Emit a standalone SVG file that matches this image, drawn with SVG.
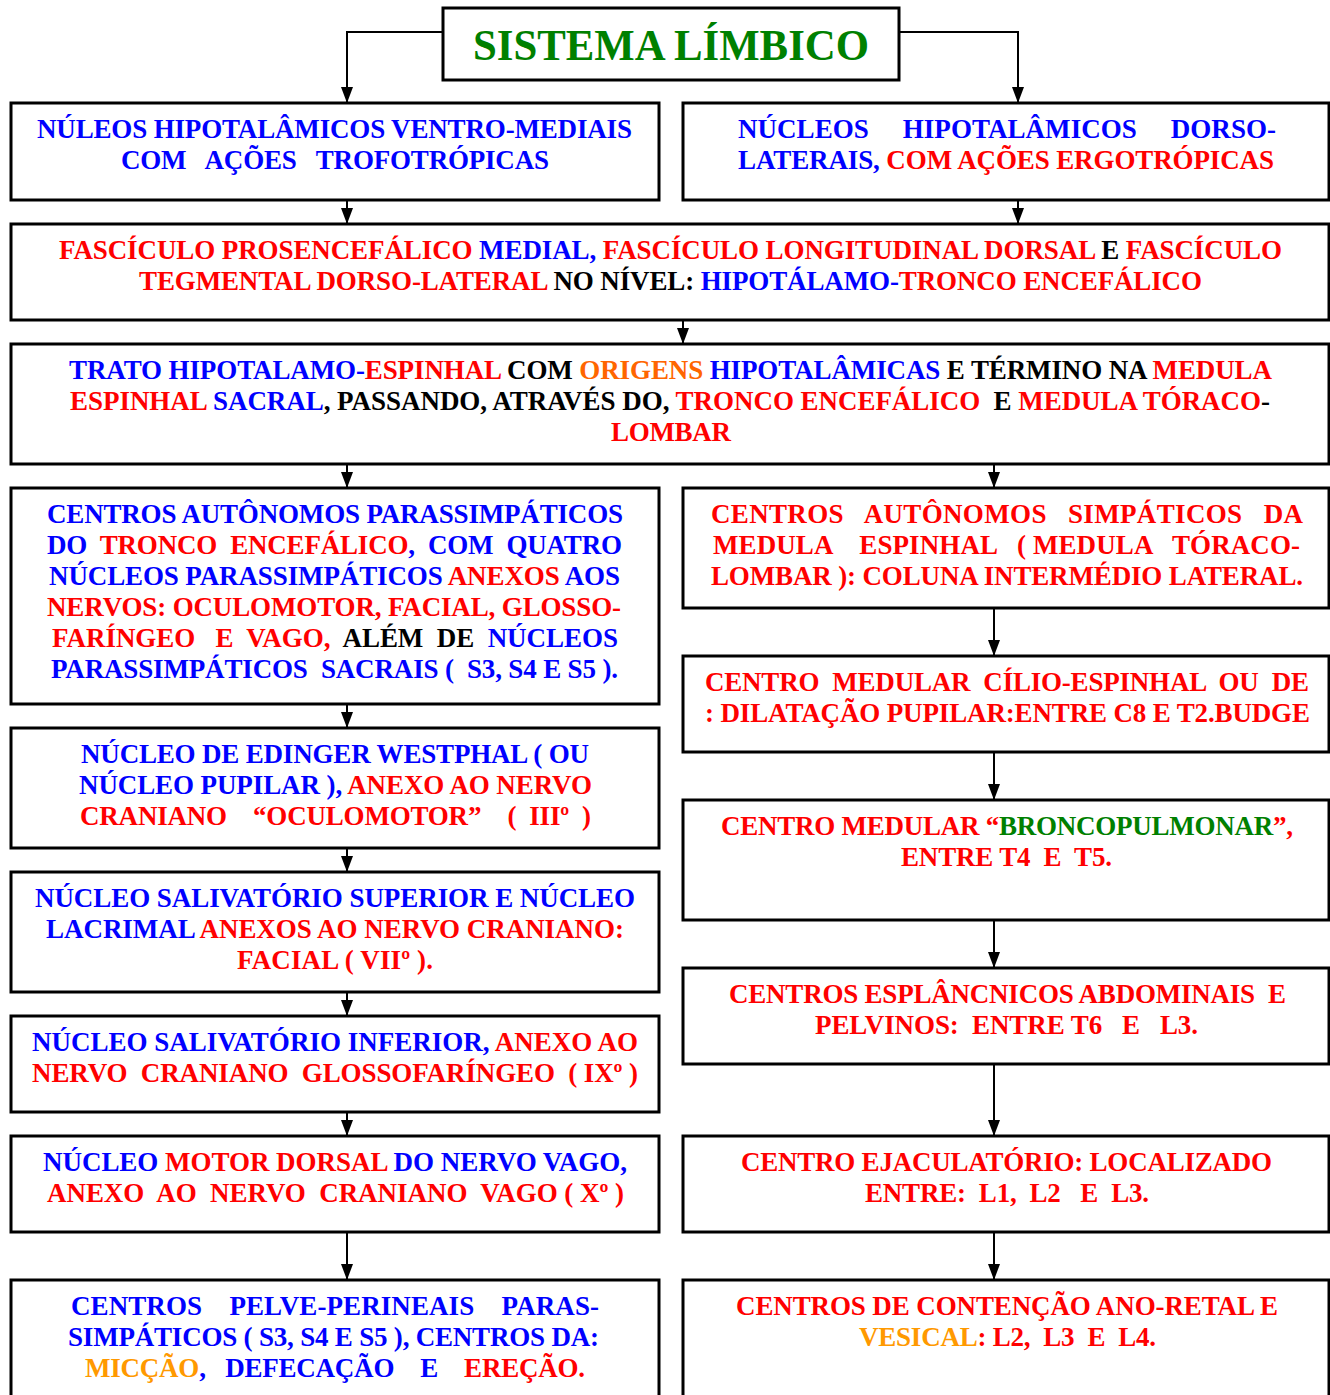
<svg xmlns="http://www.w3.org/2000/svg" width="1330" height="1395" viewBox="0 0 1330 1395">
<defs>
<style>
.box{fill:#fff;stroke:#000;stroke-width:3}
.t{font-family:"Liberation Serif","Times New Roman",serif;font-weight:bold;font-size:27px;white-space:pre}
.ttl{font-family:"Liberation Serif","Times New Roman",serif;font-weight:bold;font-size:44px;fill:#008000}
.b{fill:#0000FF}.r{fill:#FF0000}.k{fill:#000}.g{fill:#008000}.o{fill:#FF6600}.a{fill:#FF9900}
.c{fill:none;stroke:#000;stroke-width:2;marker-end:url(#ah)}
</style>
<marker id="ah" markerUnits="userSpaceOnUse" markerWidth="16" markerHeight="12" refX="16" refY="6" orient="auto">
<path d="M0,0 L16,6 L0,12 Z" fill="#000"/>
</marker>
</defs>
<rect width="1330" height="1395" fill="#fff"/>
<g id="connectors">
<path class="c" d="M443,32 H347 V103"/>
<path class="c" d="M899,32 H1018 V103"/>
<path class="c" d="M347,200 V224"/>
<path class="c" d="M1018,200 V224"/>
<path class="c" d="M683,320 V344"/>
<path class="c" d="M347,464 V488"/>
<path class="c" d="M994,464 V488"/>
<path class="c" d="M347,704 V728"/>
<path class="c" d="M347,848 V872"/>
<path class="c" d="M347,992 V1016"/>
<path class="c" d="M347,1112 V1136"/>
<path class="c" d="M347,1232 V1280"/>
<path class="c" d="M994,608 V656"/>
<path class="c" d="M994,752 V800"/>
<path class="c" d="M994,920 V968"/>
<path class="c" d="M994,1064 V1136"/>
<path class="c" d="M994,1232 V1280"/>
</g>
<g id="title">
<rect class="box" x="443" y="8" width="456" height="72"/>
<text class="ttl" x="473" y="60" textLength="396" lengthAdjust="spacingAndGlyphs">SISTEMA LÍMBICO</text>
</g>
<g id="ventro-mediais">
<rect class="box" x="11" y="103" width="648" height="97"/>
<text class="t b" x="37" y="138" textLength="595" lengthAdjust="spacing">NÚLEOS HIPOTALÂMICOS VENTRO-MEDIAIS</text>
<text class="t b" x="121" y="169" textLength="428" lengthAdjust="spacing">COM   AÇÕES   TROFOTRÓPICAS</text>
</g>
<g id="dorso-laterais">
<rect class="box" x="683" y="103" width="646" height="97"/>
<text class="t b" x="738" y="138" textLength="538" lengthAdjust="spacing">NÚCLEOS     HIPOTALÂMICOS     DORSO-</text>
<text class="t" x="738" y="169" textLength="536" lengthAdjust="spacing"><tspan class="b">LATERAIS,</tspan><tspan class="r"> COM AÇÕES ERGOTRÓPICAS</tspan></text>
</g>
<g id="fasciculos">
<rect class="box" x="11" y="224" width="1318" height="96"/>
<text class="t" x="59" y="259" textLength="1223" lengthAdjust="spacing"><tspan class="r">FASCÍCULO PROSENCEFÁLICO </tspan><tspan class="b">MEDIAL,</tspan><tspan class="r"> FASCÍCULO LONGITUDINAL DORSAL</tspan><tspan class="k"> E </tspan><tspan class="r">FASCÍCULO</tspan></text>
<text class="t" x="139" y="290" textLength="1063" lengthAdjust="spacing"><tspan class="r">TEGMENTAL DORSO-LATERAL</tspan><tspan class="k"> NO NÍVEL: </tspan><tspan class="b">HIPOTÁLAMO-</tspan><tspan class="r">TRONCO ENCEFÁLICO</tspan></text>
</g>
<g id="trato">
<rect class="box" x="11" y="344" width="1318" height="120"/>
<text class="t" x="69" y="379" textLength="1203" lengthAdjust="spacing"><tspan class="b">TRATO HIPOTALAMO-</tspan><tspan class="r">ESPINHAL</tspan><tspan class="k"> COM </tspan><tspan class="o">ORIGENS</tspan><tspan class="b"> HIPOTALÂMICAS</tspan><tspan class="k"> E TÉRMINO NA </tspan><tspan class="r">MEDULA</tspan></text>
<text class="t" x="70" y="410" textLength="1200" lengthAdjust="spacing"><tspan class="r">ESPINHAL</tspan><tspan class="b"> SACRAL</tspan><tspan class="k">, PASSANDO, ATRAVÉS DO, </tspan><tspan class="r">TRONCO ENCEFÁLICO</tspan><tspan class="k">  E </tspan><tspan class="r">MEDULA TÓRACO</tspan><tspan class="k">-</tspan></text>
<text class="t r" x="611" y="441" textLength="120" lengthAdjust="spacing">LOMBAR</text>
</g>
<g id="parassimpaticos">
<rect class="box" x="11" y="488" width="648" height="216"/>
<text class="t b" x="47" y="523" textLength="576" lengthAdjust="spacing">CENTROS AUTÔNOMOS PARASSIMPÁTICOS</text>
<text class="t" x="47" y="554" textLength="575" lengthAdjust="spacing"><tspan class="b">DO  </tspan><tspan class="r">TRONCO  ENCEFÁLICO</tspan><tspan class="b">,  COM  QUATRO</tspan></text>
<text class="t" x="49" y="585" textLength="571" lengthAdjust="spacing"><tspan class="b">NÚCLEOS PARASSIMPÁTICOS </tspan><tspan class="r">ANEXOS</tspan><tspan class="b"> AOS</tspan></text>
<text class="t r" x="47" y="616" textLength="574" lengthAdjust="spacing">NERVOS: OCULOMOTOR, FACIAL, GLOSSO-</text>
<text class="t" x="52" y="647" textLength="566" lengthAdjust="spacing"><tspan class="r">FARÍNGEO   E  VAGO,</tspan><tspan class="k">  ALÉM  DE  </tspan><tspan class="b">NÚCLEOS</tspan></text>
<text class="t b" x="51" y="678" textLength="567" lengthAdjust="spacing">PARASSIMPÁTICOS  SACRAIS (  S3, S4 E S5 ).</text>
</g>
<g id="edinger-westphal">
<rect class="box" x="11" y="728" width="648" height="120"/>
<text class="t b" x="81" y="763" textLength="508" lengthAdjust="spacing">NÚCLEO DE EDINGER WESTPHAL ( OU</text>
<text class="t" x="79" y="794" textLength="513" lengthAdjust="spacing"><tspan class="b">NÚCLEO PUPILAR ),</tspan><tspan class="r"> ANEXO AO NERVO</tspan></text>
<text class="t r" x="80" y="825" textLength="511" lengthAdjust="spacing">CRANIANO    “OCULOMOTOR”    (  IIIº  )</text>
</g>
<g id="salivatorio-superior">
<rect class="box" x="11" y="872" width="648" height="120"/>
<text class="t b" x="35" y="907" textLength="600" lengthAdjust="spacing">NÚCLEO SALIVATÓRIO SUPERIOR E NÚCLEO</text>
<text class="t" x="46" y="938" textLength="578" lengthAdjust="spacing"><tspan class="b">LACRIMAL </tspan><tspan class="r">ANEXOS AO NERVO CRANIANO:</tspan></text>
<text class="t r" x="237" y="969" textLength="196" lengthAdjust="spacing">FACIAL ( VIIº ).</text>
</g>
<g id="salivatorio-inferior">
<rect class="box" x="11" y="1016" width="648" height="96"/>
<text class="t" x="32" y="1051" textLength="606" lengthAdjust="spacing"><tspan class="b">NÚCLEO SALIVATÓRIO INFERIOR,</tspan><tspan class="r"> ANEXO AO</tspan></text>
<text class="t r" x="32" y="1082" textLength="606" lengthAdjust="spacing">NERVO  CRANIANO  GLOSSOFARÍNGEO  ( IXº )</text>
</g>
<g id="motor-dorsal-vago">
<rect class="box" x="11" y="1136" width="648" height="96"/>
<text class="t" x="43" y="1171" textLength="584" lengthAdjust="spacing"><tspan class="b">NÚCLEO </tspan><tspan class="r">MOTOR DORSAL</tspan><tspan class="b"> DO NERVO VAGO,</tspan></text>
<text class="t r" x="47" y="1202" textLength="577" lengthAdjust="spacing">ANEXO  AO  NERVO  CRANIANO  VAGO ( Xº )</text>
</g>
<g id="pelve-perineais">
<rect class="box" x="11" y="1280" width="648" height="125"/>
<text class="t b" x="71" y="1315" textLength="528" lengthAdjust="spacing">CENTROS    PELVE-PERINEAIS    PARAS-</text>
<text class="t b" x="68" y="1346" textLength="531" lengthAdjust="spacing">SIMPÁTICOS ( S3, S4 E S5 ), CENTROS DA:</text>
<text class="t" x="85" y="1377" textLength="500" lengthAdjust="spacing"><tspan class="a">MICÇÃO</tspan><tspan class="b">,   DEFECAÇÃO    E    </tspan><tspan class="r">EREÇÃO.</tspan></text>
</g>
<g id="simpaticos">
<rect class="box" x="683" y="488" width="646" height="120"/>
<text class="t r" x="711" y="523" textLength="592" lengthAdjust="spacing">CENTROS   AUTÔNOMOS   SIMPÁTICOS   DA</text>
<text class="t r" x="713" y="554" textLength="587" lengthAdjust="spacing">MEDULA    ESPINHAL   ( MEDULA   TÓRACO-</text>
<text class="t r" x="711" y="585" textLength="592" lengthAdjust="spacing">LOMBAR ): COLUNA INTERMÉDIO LATERAL.</text>
</g>
<g id="cilio-espinhal">
<rect class="box" x="683" y="656" width="646" height="96"/>
<text class="t r" x="705" y="691" textLength="604" lengthAdjust="spacing">CENTRO  MEDULAR  CÍLIO-ESPINHAL  OU  DE</text>
<text class="t r" x="705" y="722" textLength="605" lengthAdjust="spacing">: DILATAÇÃO PUPILAR:ENTRE C8 E T2.BUDGE</text>
</g>
<g id="broncopulmonar">
<rect class="box" x="683" y="800" width="646" height="120"/>
<text class="t" x="721" y="835" textLength="572" lengthAdjust="spacing"><tspan class="r">CENTRO MEDULAR “</tspan><tspan class="g">BRONCOPULMONAR</tspan><tspan class="r">”,</tspan></text>
<text class="t r" x="901" y="866" textLength="211" lengthAdjust="spacing">ENTRE T4  E  T5.</text>
</g>
<g id="esplancnicos">
<rect class="box" x="683" y="968" width="646" height="96"/>
<text class="t r" x="729" y="1003" textLength="557" lengthAdjust="spacing">CENTROS ESPLÂNCNICOS ABDOMINAIS  E</text>
<text class="t r" x="815" y="1034" textLength="383" lengthAdjust="spacing">PELVINOS:  ENTRE T6   E   L3.</text>
</g>
<g id="ejaculatorio">
<rect class="box" x="683" y="1136" width="646" height="96"/>
<text class="t r" x="741" y="1171" textLength="531" lengthAdjust="spacing">CENTRO EJACULATÓRIO: LOCALIZADO</text>
<text class="t r" x="865" y="1202" textLength="284" lengthAdjust="spacing">ENTRE:  L1,  L2   E  L3.</text>
</g>
<g id="ano-retal-vesical">
<rect class="box" x="683" y="1280" width="646" height="125"/>
<text class="t r" x="736" y="1315" textLength="542" lengthAdjust="spacing">CENTROS DE CONTENÇÃO ANO-RETAL E</text>
<text class="t" x="859" y="1346" textLength="297" lengthAdjust="spacing"><tspan class="a">VESICAL</tspan><tspan class="r">: L2,  L3  E  L4.</tspan></text>
</g>
</svg>
